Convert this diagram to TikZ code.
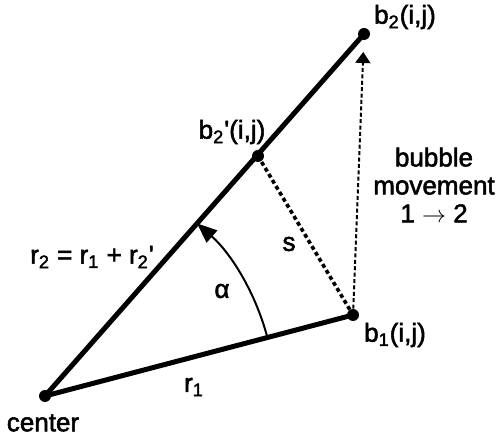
\documentclass[tikz,border=0pt]{standalone}
\usepackage{fontspec}
\setmainfont{Liberation Sans}[FakeBold=2]
\usetikzlibrary{arrows.meta,calc}

\begin{document}
\begin{tikzpicture}[x=0.5pt,y=0.5pt, every node/.style={font=\fontsize{13}{14}\selectfont, inner sep=1pt},
  dot/.style={circle, fill=black, inner sep=0pt, minimum size=6pt},
  ray/.style={line width=2.5pt}]
            \useasboundingbox (0,0) rectangle (498,439);
            \node[dot] (c) at (45,43) {};
            \node[dot] (b1) at (353,124) {};
            \node[dot] (b2) at (364,405) {};
            \node[dot] (b2p) at (258,283) {};
            \draw[ray] (c.center) -- (b1.center);
            \draw[ray] (c.center) -- (b2.center);
            \draw[line width=1.8pt, dash pattern=on 2pt off 1.5pt] (b2p.center) -- (b1.center);
            \draw[line width=1pt, dash pattern=on 2pt off 1.2pt, shorten >=9pt, -{Triangle[length=5.5pt,width=7.5pt]}] (b1.center) -- (b2.center);
            \draw[line width=1pt, -{Triangle[length=10pt,width=8pt]}] ($(c.center)!0.722!(b1.center)$) arc[start angle=14.7, end angle=48.6, radius=115pt];
            \node (b2lab) at (405,422) {b\textsubscript{2}(i,j)};
            \node (b2plab) at (232,307) {b\textsubscript{2}\textquotesingle(i,j)};
            \node[align=center] (move) at (434,254) {bubble\\movement\\1 $\rightarrow$ 2};
            \node (slab) at (289,195) {s};
            \node (alpha) at (222,148) {α};
            \node (r2lab) at (92,182) {r\textsubscript{2} = r\textsubscript{1} + r\textsubscript{2}\textquotesingle};
            \node (r1lab) at (194,52) {r\textsubscript{1}};
            \node (b1lab) at (395,104) {b\textsubscript{1}(i,j)};
            \node (clab) at (43,16) {center};
        \end{tikzpicture}
\end{document}
